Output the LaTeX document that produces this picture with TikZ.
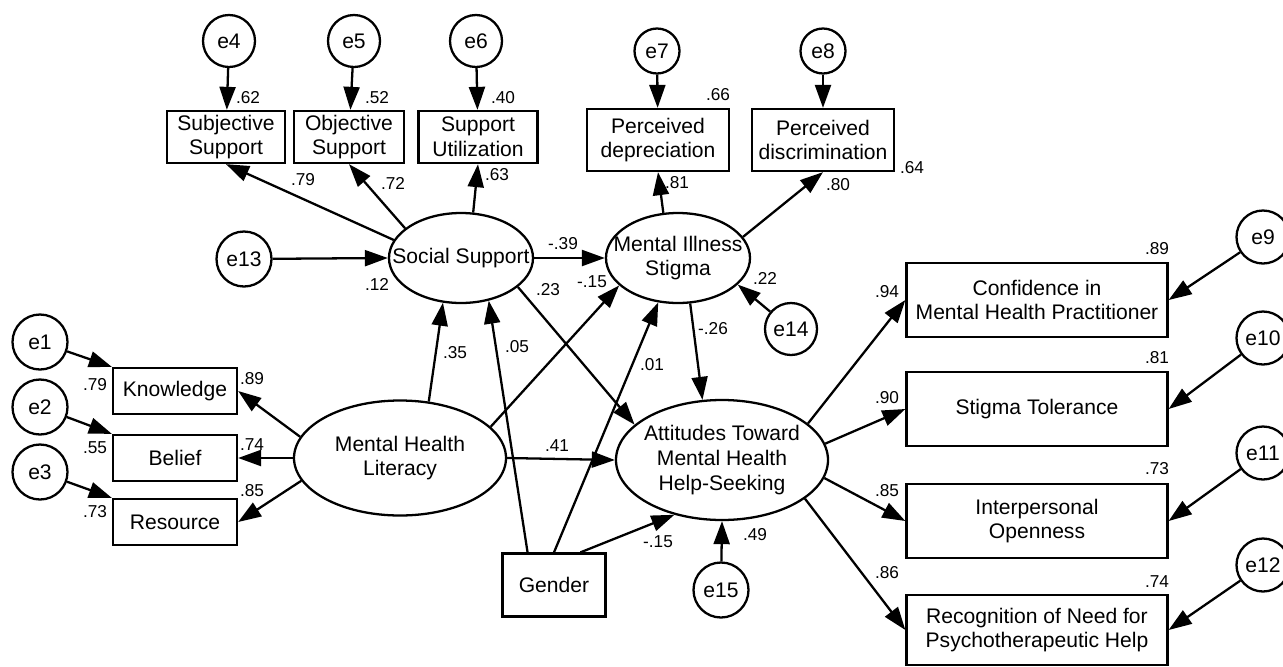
\documentclass[tikz,border=0pt]{standalone}
\usepackage{fontspec}
\setmainfont{Liberation Sans}
\usetikzlibrary{positioning, shapes.geometric, arrows.meta}

\begin{document}
\begin{tikzpicture}[x=0.2mm, y=-0.2mm, line width=1.3pt,
  box/.style={draw, rectangle, inner sep=0pt, align=center, font=\fontsize{12}{14}\selectfont},
  latent/.style={draw, ellipse, inner xsep=-4mm, inner ysep=0pt, align=center, font=\fontsize{12}{14}\selectfont},
  err/.style={draw, circle, inner sep=0pt, minimum size=10.6mm, font=\fontsize{12}{14}\selectfont},
  coef/.style={inner sep=0pt, font=\fontsize{9.8}{11}\selectfont},
  arr/.style={-{Triangle[length=4.6mm, width=3.2mm]}},
  smallbox/.style={box, minimum width=24.8mm, minimum height=9.2mm},
  rightbox/.style={box, minimum width=52.2mm, minimum height=14.8mm},
  topbox/.style={box, minimum height=10.4mm}]

\useasboundingbox (0,0) rectangle (1283,666);

  % Nodes
  \node (ss) [latent, minimum width=28.8mm, minimum height=18mm] at (461,258) {Social Support};
  \node (mis) [latent, minimum width=28.8mm, minimum height=18mm] at (678,258) {Mental Illness\\Stigma};
  \node (mhl) [latent, minimum width=42.4mm, minimum height=23mm] at (400,458) {Mental Health\\Literacy};
  \node (att) [latent, minimum width=42.4mm, minimum height=24mm] at (722,460) {Attitudes Toward\\Mental Health\\Help-Seeking};
  \node (gen) [box, minimum width=20.6mm, minimum height=12.6mm] at (554,585) {Gender};

  % Top row
  \node (subj) [topbox, minimum width=23.6mm] at (226,137) {Subjective\\Support};
  \node (obj) [topbox, minimum width=22mm] at (349,137) {Objective\\Support};
  \node (util) [topbox, minimum width=23.8mm] at (478,137) {Support\\Utilization};
  \node (dep) [box, minimum width=28.4mm, minimum height=12.4mm] at (658,140) {Perceived\\depreciation};
  \node (disc) [box, minimum width=28.4mm, minimum height=12.4mm] at (823,140) {Perceived\\discrimination};
  \node (e4) [err, minimum size=10.4mm] at (229,41) {e4};
  \node (e5) [err, minimum size=10.4mm] at (354,41) {e5};
  \node (e6) [err, minimum size=10.4mm] at (476,41) {e6};
  \node (e7) [err, minimum size=9mm] at (657,51) {e7};
  \node (e8) [err, minimum size=9mm] at (823,51) {e8};

  % Left column
  \node (know) [smallbox] at (175,391) {Knowledge};
  \node (bel) [smallbox] at (175,458) {Belief};
  \node (res) [smallbox] at (175,522) {Resource};
  \node (e1) [err, minimum size=11mm] at (40,342) {e1};
  \node (e2) [err, minimum size=11mm] at (40,407) {e2};
  \node (e3) [err, minimum size=11mm] at (40,472) {e3};

  % Right column
  \node (conf) [rightbox] at (1037,300) {Confidence in\\Mental Health Practitioner};
  \node (tol) [rightbox] at (1037,409) {Stigma Tolerance};
  \node (inter) [rightbox] at (1037,521) {Interpersonal\\Openness};
  \node (rec) [rightbox, minimum height=14mm] at (1037,630) {Recognition of Need for\\Psychotherapeutic Help};
  \node (e9) [err] at (1263,237) {e9};
  \node (e10) [err] at (1263,338) {e10};
  \node (e11) [err] at (1263,453) {e11};
  \node (e12) [err] at (1263,565) {e12};

  % Disturbances
  \node (e13) [err, minimum size=11mm] at (244,259) {e13};
  \node (e14) [err, minimum size=10.4mm] at (791,329) {e14};
  \node (e15) [err, minimum size=11mm] at (721,590) {e15};

  % Arrows
  \draw[arr] (e4) -- (subj);
  \draw[arr] (e5) -- (obj);
  \draw[arr] (e6) -- (util);
  \draw[arr] (e7) -- (dep);
  \draw[arr] (e8) -- (disc);
  \draw[arr] (ss.165) -- (subj.south);
  \draw[arr] (ss.152) -- (obj.south);
  \draw[arr] (ss.75) -- (util.south);
  \draw[arr] (mis.108) -- (dep.south);
  \draw[arr] (mis.18) -- (disc.south);

  \draw[arr] (e1) -- (know.north west);
  \draw[arr] (e2) -- (bel.north west);
  \draw[arr] (e3) -- (res.north west);
  \draw[arr] (mhl.168) -- (know.east);
  \draw[arr] (mhl.west) -- (bel.east);
  \draw[arr] (mhl.193) -- (res.east);

  \draw[arr] (e13) -- (ss.west);
  \draw[arr] (e14) -- (mis.336);
  \draw[arr] (e15) -- (att.south);

  \draw[arr] (ss.east) -- (mis.west);
  \draw[arr] (ss.333) -- (att.158);
  \draw[arr] (mhl.63) -- (ss.248);
  \draw[arr] (gen.129) -- (ss.303);
  \draw[arr] (mhl.19) -- (mis.205);
  \draw[arr] (gen.north) -- (mis.246);
  \draw[arr] (mhl.east) -- (att.west);
  \draw[arr] (gen.51) -- (att.229);
  \draw[arr] (mis.285) -- (att.108);

  \draw[arr] (att.23) -- (conf.west);
  \draw[arr] (att.9) -- (tol.west);
  \draw[arr] (att.350) -- (inter.west);
  \draw[arr] (att.335) -- (rec.west);
  \draw[arr] (e9) -- (conf.east);
  \draw[arr] (e10) -- (tol.east);
  \draw[arr] (e11) -- (inter.east);
  \draw[arr] (e12) -- (rec.east);

  % Estimates
  \node (r_subj) [coef] at (248,98) {.62};
  \node (r_obj) [coef] at (377,98) {.52};
  \node (r_util) [coef] at (503,98) {.40};
  \node (l_subj) [coef] at (303,180) {.79};
  \node (l_obj) [coef] at (393,183) {.72};
  \node (l_util) [coef] at (497,175) {.63};
  \node (r_dep) [coef] at (718,95) {.66};
  \node (r_disc) [coef] at (912,168) {.64};
  \node (l_dep) [coef] at (677,183) {.81};
  \node (l_disc) [coef] at (838,185) {.80};

  \node (r_know) [coef] at (95,385) {.79};
  \node (r_bel) [coef] at (95,448) {.55};
  \node (r_res) [coef] at (95,512) {.73};
  \node (l_know) [coef] at (252,379) {.89};
  \node (l_bel) [coef] at (252,445) {.74};
  \node (l_res) [coef] at (252,491) {.85};

  \node (r_ss) [coef] at (377,284) {.12};
  \node (r_mis) [coef] at (765,278) {.22};
  \node (r_att) [coef] at (755,535) {.49};
  \node (b_ss_mis) [coef] at (563,244) {-.39};
  \node (b_ss_att) [coef] at (548,290) {.23};
  \node (b_mhl_mis) [coef] at (592,282) {-.15};
  \node (b_mhl_ss) [coef] at (455,353) {.35};
  \node (b_gen_ss) [coef] at (517,347) {.05};
  \node (b_gen_mis) [coef] at (652,365) {.01};
  \node (b_mis_att) [coef] at (713,329) {-.26};
  \node (b_mhl_att) [coef] at (557,446) {.41};
  \node (b_gen_att) [coef] at (658,542) {-.15};

  \node (l_conf) [coef] at (887,292) {.94};
  \node (l_tol) [coef] at (887,398) {.90};
  \node (l_inter) [coef] at (887,491) {.85};
  \node (l_rec) [coef] at (887,573) {.86};
  \node (r_conf) [coef] at (1157,249) {.89};
  \node (r_tol) [coef] at (1157,358) {.81};
  \node (r_inter) [coef] at (1157,469) {.73};
  \node (r_rec) [coef] at (1157,582) {.74};

\end{tikzpicture}
\end{document}
